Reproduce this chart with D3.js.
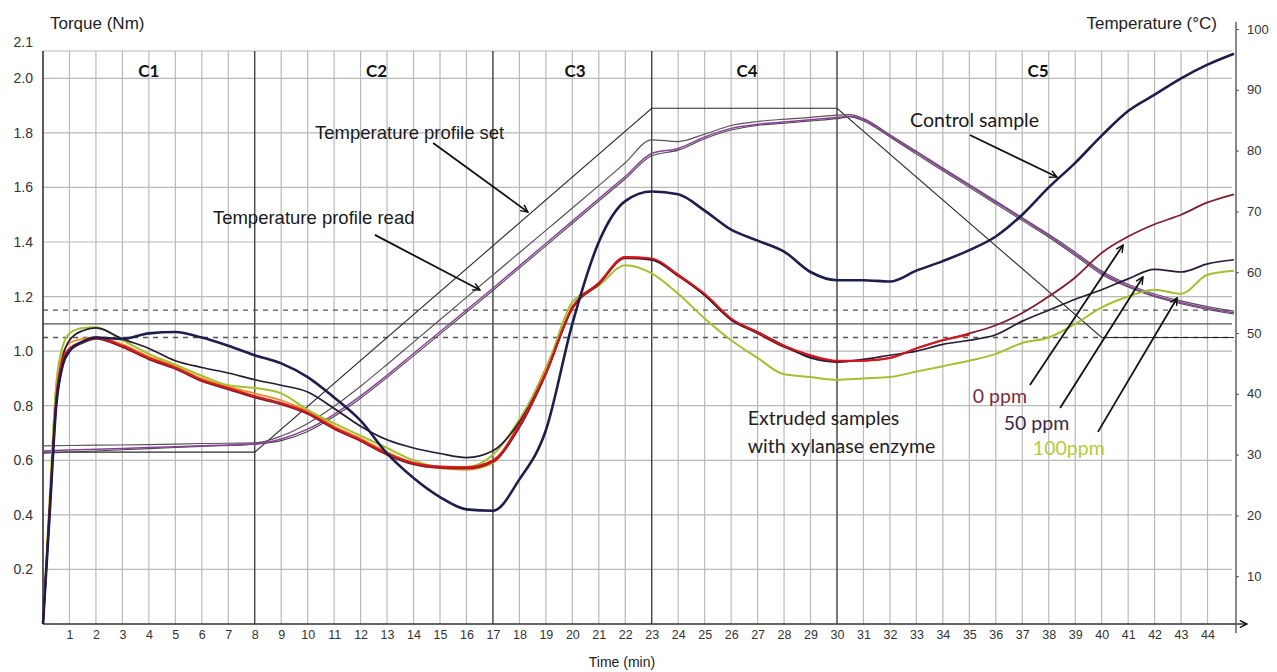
<!DOCTYPE html>
<html>
<head>
<meta charset="utf-8">
<title>Mixolab torque and temperature</title>
<script src="https://cdn.jsdelivr.net/npm/d3@7"></script>
<style>
  body { margin: 0; background: #fff; }
  svg { display: block; }
</style>
</head>
<body>
<script>
// torque readings (Nm) at these minutes
const minutes = [0, 0.25, 0.5, 0.75, 1, 1.5, 2, 3, 4, 5, 6, 7, 8, 9, 10, 11, 12, 13, 14, 15, 16, 17, 18, 19, 20,
  21, 22, 23, 24, 25, 26, 27, 28, 29, 30, 31, 32, 33, 34, 35, 36, 37, 38, 39, 40, 41, 42, 43, 44, 45]

const control = [0, 0.40, 0.80, 0.95, 1.00, 1.035, 1.05, 1.045, 1.065, 1.07, 1.05, 1.02, 0.985, 0.955, 0.905, 0.83,
  0.745, 0.625, 0.535, 0.465, 0.42, 0.415, 0.53, 0.71, 1.10, 1.40, 1.55, 1.585, 1.575, 1.515, 1.445, 1.405, 1.365,
  1.29, 1.26, 1.26, 1.255, 1.295, 1.33, 1.37, 1.42, 1.50, 1.60, 1.69, 1.79, 1.88, 1.94, 2.00, 2.05, 2.09]

const ppm0 = [0, 0.40, 0.80, 0.95, 1.00, 1.03, 1.045, 1.015, 0.97, 0.935, 0.89, 0.86, 0.83, 0.805, 0.77, 0.715,
  0.67, 0.62, 0.585, 0.572, 0.57, 0.595, 0.72, 0.915, 1.155, 1.245, 1.34, 1.335, 1.275, 1.205, 1.115, 1.065, 1.015,
  0.98, 0.962, 0.965, 0.975, 1.01, 1.04, 1.065, 1.095, 1.14, 1.20, 1.27, 1.36, 1.42, 1.465, 1.50, 1.545, 1.575]

const ppm0Repeat = [0, 0.42, 0.83, 0.97, 1.01, 1.035, 1.05, 1.02, 0.975, 0.94, 0.895, 0.865, 0.835, 0.81, 0.775,
  0.72, 0.675, 0.625, 0.59, 0.577, 0.575, 0.60, 0.73, 0.92, 1.16, 1.25, 1.345, 1.34, 1.28, 1.21, 1.12, 1.07, 1.02,
  0.985, 0.965, 0.965, 0.975, 1.01, 1.04, 1.06, null, null, null, null, null, null, null, null, null, null]

const ppm50 = [0, 0.42, 0.82, 0.98, 1.04, 1.075, 1.085, 1.045, 1.01, 0.965, 0.94, 0.92, 0.895, 0.875, 0.85, 0.79,
  0.725, 0.675, 0.645, 0.625, 0.61, 0.635, 0.74, 0.92, 1.16, 1.25, 1.345, 1.335, 1.28, 1.205, 1.115, 1.07, 1.02,
  0.975, 0.96, 0.97, 0.985, 1.00, 1.025, 1.04, 1.06, 1.11, 1.15, 1.19, 1.225, 1.265, 1.30, 1.29, 1.32, 1.335]

const ppm100 = [0, 0.45, 0.88, 1.02, 1.065, 1.085, 1.088, 1.04, 0.99, 0.95, 0.91, 0.875, 0.865, 0.845, 0.785, 0.735,
  0.69, 0.645, 0.60, 0.575, 0.575, 0.62, 0.75, 0.93, 1.18, 1.24, 1.315, 1.285, 1.21, 1.12, 1.04, 0.975, 0.915,
  0.905, 0.895, 0.90, 0.905, 0.925, 0.945, 0.965, 0.99, 1.03, 1.05, 1.10, 1.16, 1.20, 1.225, 1.21, 1.28, 1.295]

const orangeRepeat = [0, 0.46, 0.87, 0.99, 1.03, 1.045, 1.05, 1.025, 0.98, 0.945, 0.90, 0.87, 0.845, 0.82, 0.78,
  0.725, 0.68, 0.63, 0.59, 0.57, 0.565, 0.59, 0.74, 0.94, 1.17, null, null, null, null, null, null, null, null,
  null, null, null, null, null, null, null, null, null, null, null, null, null, null, null, null, null]

// temperature (°C)
const setMinutes = [0, 8, 23, 30, 40, 45]
const setTemps = [30, 30, 90, 90, 50, 50]

const tempMinutes = [0, 2, 4, 6, 8, 9, 10, 11, 12, 13, 14, 15, 16, 17, 18, 19, 20, 21, 22, 23, 24, 25, 26, 27, 28,
  29, 30, 30.5, 31, 32, 33, 34, 35, 36, 37, 38, 39, 40, 41, 42, 43, 44, 45]
const readUpper = [31.1, 31.2, 31.3, 31.5, 31.6, 32.8, 35.0, 38.0, 41.5, 45.3, 49.2, 53.1, 57.0, 60.9, 64.8, 68.7,
  72.6, 76.5, 80.5, 84.5, 84.2, 85.5, 87.0, 87.7, 88.1, 88.4, 88.8, 88.9, 88.2, 85.4, 82.5, 79.6, 76.7, 73.8, 70.9,
  68.0, 64.9, 61.6, 59.3, 57.6, 56.4, 55.4, 54.6]
const readLower = [30.2, 30.5, 30.8, 31.1, 31.4, 32.3, 34.0, 36.6, 39.8, 43.4, 47.2, 51.0, 54.8, 58.6, 62.5, 66.4,
  70.3, 74.2, 78.1, 82.1, 83.0, 85.0, 86.5, 87.2, 87.6, 88.0, 88.4, 88.6, 88.0, 85.2, 82.3, 79.4, 76.5, 73.6, 70.7,
  67.8, 64.6, 61.3, 59.0, 57.3, 56.1, 55.1, 54.3]
const readLower2 = [29.8, 30.2, 30.6, 31.0, 31.4, 32.0, 33.6, 36.2, 39.4, 43.0, 46.8, 50.6, 54.4, 58.2, 62.1, 66.0,
  69.9, 73.8, 77.7, 81.7, 82.7, 84.7, 86.2, 87.0, 87.4, 87.8, 88.2, 88.5, 87.8, 85.0, 82.0, 79.1, 76.2, 73.3, 70.4,
  67.5, 64.3, 61.0, 58.8, 57.1, 55.9, 54.9, 54.1]

const phaseBounds = [8, 17, 23, 30]
const phaseNames = ['C1', 'C2', 'C3', 'C4', 'C5']
const phaseLabelAt = [4, 12.6, 20.1, 26.6, 37.6]
const targetTorque = [1.05, 1.10, 1.15]

const width = 1277, height = 672
const x = d3.scaleLinear().domain([0, 45]).range([43, 1234])
const y = d3.scaleLinear().domain([0, 2.1]).range([624, 51])
const tempY = d3.scaleLinear().domain([0, 100]).range([624, 51])
// the printed temperature labels sit on their own spacing in the original
const tempLabels = d3.scaleLinear().domain([0, 100]).range([637, 29])

const svg = d3.select('body').append('svg')
  .attr('width', width)
  .attr('height', height)
  .style('font-family', '"Liberation Sans", Arial, sans-serif')

const defs = svg.append('defs')
defs.append('marker')
  .attr('id', 'head')
  .attr('viewBox', '0 0 10 10')
  .attr('refX', 9).attr('refY', 5)
  .attr('markerWidth', 9).attr('markerHeight', 9)
  .attr('markerUnits', 'userSpaceOnUse')
  .attr('orient', 'auto')
  .append('path')
  .attr('d', 'M1,1 L9,5 L1,9')
  .attr('fill', 'none')
  .attr('stroke', '#111')
  .attr('stroke-width', 1.6)

// grid
const grid = svg.append('g')
grid.selectAll('.vg')
  .data(d3.range(1, 45))
  .enter().append('line')
  .attr('x1', d => x(d)).attr('x2', d => x(d))
  .attr('y1', y(2.1)).attr('y2', y(0))
  .attr('stroke', '#b9b9b9').attr('stroke-width', 1.2)
grid.selectAll('.hg')
  .data([0.2, 0.4, 0.6, 0.8, 1.0, 1.2, 1.4, 1.6, 1.8, 2.0, 2.1])
  .enter().append('line')
  .attr('x1', x(0)).attr('x2', 1232)
  .attr('y1', d => y(d)).attr('y2', d => y(d))
  .attr('stroke', '#b9b9b9').attr('stroke-width', 1.2)

grid.selectAll('.phase')
  .data(phaseBounds)
  .enter().append('line')
  .attr('x1', d => x(d)).attr('x2', d => x(d))
  .attr('y1', y(2.1)).attr('y2', y(0))
  .attr('stroke', '#2a2a2a').attr('stroke-width', 1.1)

grid.selectAll('.target')
  .data(targetTorque)
  .enter().append('line')
  .attr('x1', x(0)).attr('x2', 1232)
  .attr('y1', d => y(d)).attr('y2', d => y(d))
  .attr('stroke', '#555')
  .attr('stroke-width', 1.3)
  .attr('stroke-dasharray', d => d === 1.10 ? null : '5,5')

// axes
svg.append('line')
  .attr('x1', x(0)).attr('x2', x(0)).attr('y1', y(2.1)).attr('y2', y(0))
  .attr('stroke', '#333').attr('stroke-width', 1.6)
svg.append('line')
  .attr('x1', x(0)).attr('x2', 1247).attr('y1', y(0)).attr('y2', y(0))
  .attr('stroke', '#333').attr('stroke-width', 1.6)
  .attr('marker-end', 'url(#head)')
svg.append('line')
  .attr('x1', 1236).attr('x2', 1236).attr('y1', 22).attr('y2', 633)
  .attr('stroke', '#555').attr('stroke-width', 1.4)

const leftAxis = svg.append('g')
  .attr('transform', `translate(${x(0)},0)`)
  .call(d3.axisLeft(y)
    .tickValues([0.2, 0.4, 0.6, 0.8, 1.0, 1.2, 1.4, 1.6, 1.8, 2.0, 2.1])
    .tickSize(0).tickPadding(10)
    .tickFormat(d3.format('.1f')))
leftAxis.select('.domain').remove()
leftAxis.selectAll('text')
  .attr('font-size', 14).attr('fill', '#333')
  .style('font-family', '"Liberation Sans", Arial, sans-serif')
  .filter(d => d === 2.1).attr('dy', '-0.3em')

const bottomAxis = svg.append('g')
  .attr('transform', `translate(0,${y(0)})`)
  .call(d3.axisBottom(x).tickValues(d3.range(1, 45)).tickSize(0).tickPadding(6))
bottomAxis.select('.domain').remove()
bottomAxis.selectAll('text')
  .attr('font-size', 12.5).attr('fill', '#333')
  .style('font-family', '"Liberation Sans", Arial, sans-serif')

const rightAxis = svg.append('g')
  .attr('transform', 'translate(1236,0)')
  .call(d3.axisRight(tempLabels).tickValues(d3.range(10, 101, 10)).tickSize(3).tickPadding(8))
rightAxis.select('.domain').remove()
rightAxis.selectAll('line').attr('stroke', '#555')
rightAxis.selectAll('text')
  .attr('font-size', 13).attr('fill', '#333')
  .style('font-family', '"Liberation Sans", Arial, sans-serif')

svg.append('text').text('Torque (Nm)')
  .attr('x', 50).attr('y', 29).attr('font-size', 17).attr('fill', '#222')
svg.append('text').text('Temperature (°C)')
  .attr('x', 1217).attr('y', 29).attr('text-anchor', 'end').attr('font-size', 17).attr('fill', '#222')
svg.append('text').text('Time (min)')
  .attr('x', 622).attr('y', 667).attr('text-anchor', 'middle').attr('font-size', 14).attr('fill', '#222')

svg.selectAll('.phaseName')
  .data(phaseNames)
  .enter().append('text')
  .text(d => d)
  .attr('x', (d, i) => x(phaseLabelAt[i]))
  .attr('y', 77)
  .attr('text-anchor', 'middle')
  .attr('font-size', 17).attr('font-weight', 'bold')
  .style('font-family', 'Lato, "Open Sans", sans-serif')
  .attr('fill', '#111')

// temperature lines
const tempLine = d3.line()
  .x((d, i) => x(tempMinutes[i]))
  .y(d => tempY(d))
  .curve(d3.curveMonotoneX)

const temps = svg.append('g').attr('fill', 'none')
temps.append('path')
  .attr('d', d3.line().x((d, i) => x(setMinutes[i])).y(d => tempY(d))(setTemps))
  .attr('stroke', '#2b2b2b').attr('stroke-width', 1.1)
temps.append('path').attr('d', tempLine(readUpper))
  .attr('stroke', '#5b5158').attr('stroke-width', 1.2)
temps.append('path').attr('d', tempLine(readLower2))
  .attr('stroke', '#4a4a4a').attr('stroke-width', 1.1)
temps.append('path').attr('d', tempLine(readLower))
  .attr('stroke', '#8b3f9a').attr('stroke-width', 1.5)

// torque curves
const torqueLine = d3.line()
  .defined(d => d !== null)
  .x((d, i) => x(minutes[i]))
  .y(d => y(d))
  .curve(d3.curveMonotoneX)

const series = [
  { values: orangeRepeat, color: '#ef8d22', w: 1.8 },
  { values: ppm100, color: '#a5bf30', w: 2 },
  { values: ppm0, color: '#7e1f2d', w: 1.8 },
  { values: ppm50, color: '#2a1a33', w: 1.7 },
  { values: ppm0Repeat, color: '#d9161c', w: 1.9 },
  { values: control, color: '#1e1e4c', w: 2.6 }
]

svg.append('g').attr('fill', 'none')
  .selectAll('path')
  .data(series)
  .enter().append('path')
  .attr('d', d => torqueLine(d.values))
  .attr('stroke', d => d.color)
  .attr('stroke-width', d => d.w)
  .attr('stroke-linejoin', 'round')

// annotations: arrows given as [minute, torque] pairs
const arrows = [
  [[14.74, 1.763], [18.32, 1.51]],
  [[12.54, 1.426], [16.51, 1.224]],
  [[35.02, 1.792], [38.31, 1.638]],
  [[37.29, 0.876], [40.81, 1.389]],
  [[38.43, 0.792], [41.56, 1.272]],
  [[39.86, 0.704], [42.85, 1.195]]
]
svg.append('g').selectAll('line')
  .data(arrows)
  .enter().append('line')
  .attr('x1', d => x(d[0][0])).attr('y1', d => y(d[0][1]))
  .attr('x2', d => x(d[1][0])).attr('y2', d => y(d[1][1]))
  .attr('stroke', '#111').attr('stroke-width', 1.8)
  .attr('marker-end', 'url(#head)')

const notes = [
  { text: 'Temperature profile set', t: 10.28, v: 1.777, color: '#1a1a1a', font: '"Liberation Sans", Arial, sans-serif', size: 18.5 },
  { text: 'Temperature profile read', t: 6.42, v: 1.466, color: '#1a1a1a', font: '"Liberation Sans", Arial, sans-serif', size: 18.5 },
  { text: 'Control sample', t: 32.76, v: 1.821, color: '#1a1a1a', font: 'Lato, "Open Sans", sans-serif', size: 19.5 },
  { text: 'Extruded samples', t: 26.63, v: 0.730, color: '#222', font: 'Lato, "Open Sans", sans-serif', size: 19.5 },
  { text: 'with xylanase enzyme', t: 26.63, v: 0.627, color: '#222', font: 'Lato, "Open Sans", sans-serif', size: 19.5 },
  { text: '0 ppm', t: 35.13, v: 0.81, color: '#7b2b38', font: 'Lato, "Open Sans", sans-serif', size: 19.5 },
  { text: '50 ppm', t: 36.30, v: 0.711, color: '#3b2843', font: 'Lato, "Open Sans", sans-serif', size: 19.5 },
  { text: '100ppm', t: 37.40, v: 0.620, color: '#b4cb3a', font: 'Lato, "Open Sans", sans-serif', size: 19.5 }
]
svg.append('g').selectAll('text')
  .data(notes)
  .enter().append('text')
  .text(d => d.text)
  .attr('x', d => x(d.t))
  .attr('y', d => y(d.v))
  .attr('fill', d => d.color)
  .attr('font-size', d => d.size)
  .style('font-family', d => d.font)
</script>
</body>
</html>
